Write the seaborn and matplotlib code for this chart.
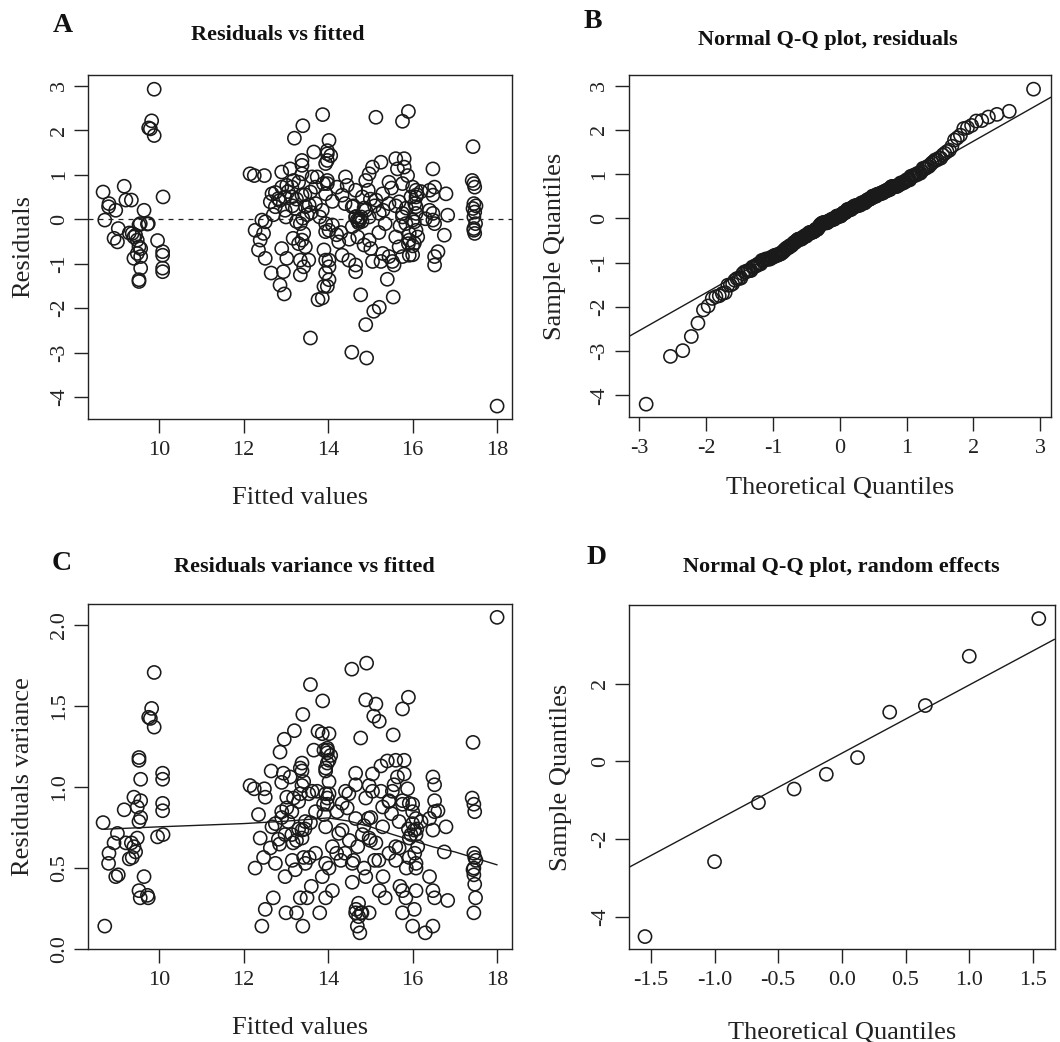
import numpy as np
import pandas as pd
import matplotlib
matplotlib.use('Agg')
import matplotlib.pyplot as plt
import seaborn as sns
from statistics import NormalDist

# residuals vs fitted
fitted_vals = [
    # left cluster
    9.88, 9.82, 9.79, 9.88, 9.75, 8.67, 9.17, 9.21, 9.34, 8.81, 8.80, 8.97, 9.64, 10.09,
    8.71, 9.74, 9.55, 9.03, 8.93, 9.01, 9.29, 9.36, 9.40, 9.44, 9.52, 9.72, 9.48, 9.52,
    9.56, 9.48, 9.40, 9.56, 9.56, 9.52, 9.52, 9.96, 10.08, 10.08, 10.08, 10.08,
    # 12 - 14 upper
    13.87, 13.40, 13.20, 13.66, 13.98, 13.94, 12.15, 12.25, 12.49, 12.90, 13.10, 13.38,
    13.38, 13.38, 13.62, 13.74, 13.18, 13.30, 13.02, 12.90, 13.14, 12.67, 12.63, 12.82,
    12.98, 13.14, 13.38, 13.58, 13.70, 13.89, 13.98, 12.75, 12.98, 13.22, 13.46, 13.70,
    13.86, 12.75, 12.85, 13.05, 13.15, 13.25, 13.30, 13.45, 13.50, 13.55, 12.70, 13.00,
    13.25, 13.40, 13.60, 13.80,
    # 12 - 14 lower
    12.43, 12.51, 12.27, 12.47, 12.39, 12.35, 12.51, 12.65, 12.90, 13.02, 12.94, 12.86,
    12.96, 13.17, 13.34, 13.42, 13.38, 13.46, 13.34, 13.42, 13.34, 13.54, 13.76, 13.58,
    14.02, 13.98, 13.94,
    # 14 - 16 upper
    15.13, 15.76, 15.90, 14.02, 13.98, 14.06, 13.98, 15.25, 15.05, 14.97, 14.89, 15.60,
    15.80, 15.80, 15.64, 15.88, 16.00, 15.44, 15.76, 14.41, 14.45, 14.21, 14.33, 13.98,
    13.94, 14.65, 14.81, 15.29, 15.13, 15.44, 15.68, 15.96, 16.08, 14.57, 14.89, 15.21,
    15.76, 14.65, 14.97, 14.10, 14.20, 14.30, 14.40, 14.50, 14.60, 14.70, 14.75, 14.80,
    14.72, 14.78, 14.85, 14.95, 15.00, 15.10, 15.20, 15.30, 15.35, 15.50, 15.60, 15.70,
    15.85, 15.90, 16.05, 16.10, 16.20, 16.30,
    # 14 - 16 lower
    14.69, 14.72, 14.66, 14.57, 13.94, 14.02, 14.10, 13.90, 13.94, 14.02, 13.94, 14.02,
    13.90, 13.86, 14.25, 14.33, 14.49, 14.65, 14.65, 14.97, 14.85, 15.01, 15.05, 15.29,
    15.44, 15.25, 15.52, 15.56, 15.40, 14.77, 15.54, 15.21, 15.08, 14.89, 14.56, 14.91,
    15.76, 15.84, 15.92, 15.92, 15.92, 16.00, 16.08, 15.60, 15.68, 15.76,
    # right side
    17.43, 17.41, 17.45, 17.47, 17.45, 17.43, 17.47, 17.45, 17.49, 17.45, 17.47, 16.48,
    16.40, 16.52, 16.48, 16.79, 16.08, 16.08, 16.40, 16.48, 16.48, 16.52, 16.83, 16.75,
    16.08, 16.04, 16.12, 16.04, 16.60, 16.52, 16.52, 16.00, 16.00, 18.00, 17.50, 17.45,
]
resid_vals = [
    2.92, 2.21, 2.03, 1.88, 2.05, 0.61, 0.74, 0.43, 0.43, 0.35, 0.28, 0.20, 0.20, 0.50,
    -0.02, -0.10, -0.10, -0.21, -0.43, -0.51, -0.31, -0.32, -0.40, -0.36, -0.13, -0.11, -0.47, -0.62,
    -0.66, -0.77, -0.88, -0.84, -1.10, -1.36, -1.40, -0.48, -0.73, -0.81, -1.10, -1.18,
    2.35, 2.10, 1.82, 1.51, 1.47, 1.25, 1.02, 0.98, 0.98, 1.06, 1.13, 1.32,
    1.21, 1.02, 0.95, 0.95, 0.87, 0.83, 0.76, 0.72, 0.72, 0.57, 0.39, 0.46,
    0.50, 0.50, 0.54, 0.61, 0.72, 0.80, 0.87, 0.28, 0.20, 0.24, 0.28, 0.35,
    0.20, 0.60, 0.42, 0.62, 0.30, 0.45, -0.55, 0.55, 0.10, 0.32, 0.10, 0.05,
    -0.05, 0.02, 0.15, 0.05,
    -0.02, -0.06, -0.25, -0.32, -0.47, -0.69, -0.88, -1.21, -0.66, -0.88, -1.18, -1.48,
    -1.68, -0.43, -0.10, -0.32, -0.47, -0.62, -0.92, -1.07, -1.25, -0.92, -1.81, -2.67,
    -0.92, -1.51, -0.28,
    2.29, 2.20, 2.42, 1.77, 1.54, 1.43, 1.32, 1.28, 1.17, 1.02, 0.87, 1.36,
    1.36, 1.17, 1.13, 0.98, 0.72, 0.83, 0.80, 0.95, 0.76, 0.72, 0.54, 0.80,
    0.57, 0.65, 0.50, 0.57, 0.43, 0.35, 0.39, 0.50, 0.28, 0.28, 0.20, 0.13,
    0.13, 0.05, 0.05, 0.40, -0.35, -0.30, 0.35, -0.45, 0.30, -0.40, 0.01, -0.05,
    -0.08, 0.05, 0.25, 0.65, 0.45, 0.30, -0.30, 0.20, -0.10, 0.70, 0.30, -0.15,
    0.25, -0.55, 0.35, 0.55, 0.62, 0.01,
    -0.02, -0.04, 0.06, -0.17, -0.10, -0.25, -0.13, -0.69, -0.92, -1.07, -1.21, -1.36,
    -1.51, -1.77, -0.51, -0.81, -0.92, -1.03, -1.18, -0.47, -0.58, -0.66, -0.95, -0.77,
    -0.84, -0.95, -0.95, -1.03, -1.35, -1.70, -1.75, -1.98, -2.07, -2.37, -2.99, -3.12,
    0.05, -0.10, -0.32, -0.47, -0.81, -0.02, -0.25, -0.40, -0.62, -0.84,
    1.63, 0.87, 0.80, 0.72, 0.35, 0.24, 0.16, 0.05, -0.10, -0.21, -0.32, 1.13,
    0.65, 0.72, 0.54, 0.57, 0.65, 0.50, 0.20, 0.13, -0.02, -0.10, 0.09, -0.36,
    0.13, -0.06, -0.40, -0.54, -0.73, -0.84, -1.03, -0.60, -0.80, -4.20, 0.30, -0.25,
]

# smoother drawn in panel C
smooth_x = [8.7, 10.0, 11.0, 12.0, 13.0, 13.5, 14.0, 14.5, 15.0, 15.5, 16.0, 16.5, 17.0, 17.5, 18.0]
smooth_y = [0.74, 0.755, 0.765, 0.775, 0.79, 0.80, 0.81, 0.79, 0.755, 0.71, 0.67, 0.63, 0.60, 0.56, 0.52]

# random effects (panel D)
ranef_vals = [-4.51, -2.58, -1.06, -0.71, -0.33, 0.10, 1.27, 1.44, 2.71, 3.68]


def ppoints(n):
    a = 3 / 8 if n <= 10 else 0.5
    return [(i + 1 - a) / (n + 1 - 2 * a) for i in range(n)]


def qq_frame(vals):
    s = np.sort(np.asarray(vals))
    nd = NormalDist()
    th = np.array([nd.inv_cdf(p) for p in ppoints(len(s))])
    return pd.DataFrame({'theo': th, 'sample': s})


def qq_line(vals):
    q1, q3 = np.percentile(vals, [25, 75])
    z1, z3 = NormalDist().inv_cdf(0.25), NormalDist().inv_cdf(0.75)
    slope = (q3 - q1) / (z3 - z1)
    return q1 - slope * z1, slope


df_a = pd.DataFrame({'fitted': fitted_vals, 'resid': resid_vals})
df_a['sqrt_abs'] = np.sqrt(np.abs(df_a['resid']))
df_b = qq_frame(resid_vals)
df_d = qq_frame(ranef_vals)

sns.set_style('ticks')
plt.rcParams['font.family'] = ['Liberation Serif', 'DejaVu Serif']
plt.rcParams['axes.unicode_minus'] = False

W, H = 1060, 1042
fig = plt.figure(figsize=(W / 100, H / 100), dpi=100, facecolor='white')


def box(l, t, r, b):
    return fig.add_axes([l / W, 1 - b / H, (r - l) / W, (b - t) / H])


axA = box(88.3, 75, 512.3, 419)
axB = box(628.7, 75, 1051, 417)
axC = box(88.3, 604.3, 512.3, 949)
axD = box(629.3, 605, 1054.5, 949)

pt = dict(marker='o', s=90, facecolors='none', edgecolor='#1a1a1a', linewidth=1.15, legend=False)

# A
sns.scatterplot(data=df_a, x='fitted', y='resid', ax=axA, **pt)
axA.axhline(0, color='#222', lw=0.9, ls=(0, (4, 4)))
axA.set_xlim(8.32, 18.36)
axA.set_ylim(-4.49, 3.24)
axA.set_xticks([10, 12, 14, 16, 18])
axA.set_yticks([-4, -3, -2, -1, 0, 1, 2, 3])
axA.set_xlabel('Fitted values')
axA.set_ylabel('Residuals')

# B
sns.scatterplot(data=df_b, x='theo', y='sample', ax=axB, **pt)
b0, b1 = qq_line(resid_vals)
axB.axline((0, b0), slope=b1, color='#1a1a1a', lw=1.0)
axB.set_xlim(-3.16, 3.16)
axB.set_ylim(-4.49, 3.24)
axB.set_xticks([-3, -2, -1, 0, 1, 2, 3])
axB.set_yticks([-4, -3, -2, -1, 0, 1, 2, 3])
axB.set_xlabel('Theoretical Quantiles')
axB.set_ylabel('Sample Quantiles')

# C
sns.scatterplot(data=df_a, x='fitted', y='sqrt_abs', ax=axC, **pt)
sns.lineplot(x=smooth_x, y=smooth_y, ax=axC, color='#1a1a1a', lw=1.0)
axC.set_xlim(8.32, 18.36)
axC.set_ylim(0.01, 2.13)
axC.set_xticks([10, 12, 14, 16, 18])
axC.set_yticks([0.0, 0.5, 1.0, 1.5, 2.0])
axC.set_yticklabels(['0.0', '0.5', '1.0', '1.5', '2.0'])
axC.set_xlabel('Fitted values')
axC.set_ylabel('Residuals variance')

# D
sns.scatterplot(data=df_d, x='theo', y='sample', ax=axD, **pt)
d0, d1 = qq_line(ranef_vals)
axD.axline((0, d0), slope=d1, color='#1a1a1a', lw=1.0)
axD.set_xlim(-1.67, 1.67)
axD.set_ylim(-4.83, 4.03)
axD.set_xticks([-1.5, -1.0, -0.5, 0.0, 0.5, 1.0, 1.5])
axD.set_xticklabels(['-1.5', '-1.0', '-0.5', '0.0', '0.5', '1.0', '1.5'])
axD.set_yticks([-4, -2, 0, 2])
axD.set_xlabel('Theoretical Quantiles')
axD.set_ylabel('Sample Quantiles')

xlab_off = {axA: 79, axB: 71, axC: 79, axD: 84}
ylab_off = {axA: 65, axB: 74, axC: 65, axD: 68}
for ax in [axA, axB, axC, axD]:
    for s in ax.spines.values():
        s.set_linewidth(1.0)
        s.set_color('#222')
    ax.tick_params(direction='out', length=10, width=1.0, color='#222',
                   labelsize=16, labelcolor='#222', pad=6)
    ax.tick_params(axis='y', labelrotation=90, pad=4)
    for lab in ax.get_yticklabels():
        lab.set_va('center')
    bb = ax.get_position()
    hpx, wpx = bb.height * H, bb.width * W
    ax.xaxis.label.set_size(19)
    ax.yaxis.label.set_size(19)
    ax.xaxis.label.set_color('#222')
    ax.yaxis.label.set_color('#222')
    ax.xaxis.set_label_coords(0.5, -xlab_off[ax] / hpx)
    ax.xaxis.label.set_va('center')
    ax.yaxis.set_label_coords(-ylab_off[ax] / wpx, 0.5)
    ax.yaxis.label.set_va('center')

# titles and panel letters
titles = [('Residuals vs fitted', 278, 35), ('Normal Q-Q plot, residuals', 828, 40),
          ('Residuals variance vs fitted', 304, 567), ('Normal Q-Q plot, random effects', 841, 567)]
for txt, x, y in titles:
    fig.text(x / W, 1 - y / H, txt, ha='center', va='center', fontsize=16,
             fontweight='bold', color='#111')
letters = [('A', 63, 25), ('B', 593, 22), ('C', 62, 563), ('D', 597, 557)]
for txt, x, y in letters:
    fig.text(x / W, 1 - y / H, txt, ha='center', va='center', fontsize=20,
             fontweight='bold', color='#111')

fig.savefig('out.png', dpi=100, facecolor='white')
